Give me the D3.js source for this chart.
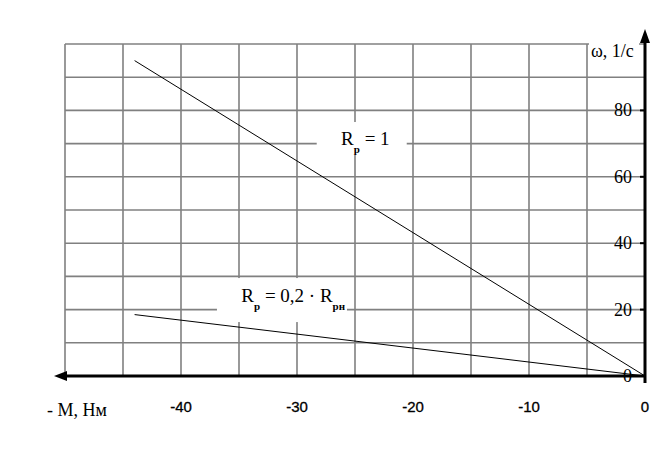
<!DOCTYPE html>
<html>
<head>
<meta charset="utf-8">
<script src="https://cdn.jsdelivr.net/npm/d3@7"></script>
<style>
  body { margin: 0; background: #fff; }
  svg { display: block; }
</style>
</head>
<body>
<div id="chart"></div>
<script>
// data
var torque = [-44, 0];
var speedR1 = [95, 0];      // R_p = 1
var speedR02 = [18.5, 0];   // R_p = 0,2 * R_pн
var xTicks = [-40, -30, -20, -10, 0];
var yTicks = [0, 20, 40, 60, 80];
var xGrid = d3.range(-50, 1, 5);
var yGrid = d3.range(0, 101, 10);

var SERIF = "'Liberation Serif'";
var SANS = "'Liberation Sans'";

var width = 669, height = 460;

var svg = d3.select("#chart").append("svg")
    .attr("width", width)
    .attr("height", height);

var x = d3.scaleLinear().domain([-50, 0]).range([65, 645]);
var y = d3.scaleLinear().domain([0, 100]).range([376, 44]);

// grid
var grid = svg.append("g")
    .attr("stroke", "#808080")
    .attr("stroke-width", 1.6);
grid.selectAll(".v").data(xGrid).enter().append("line")
    .attr("x1", d => x(d)).attr("x2", d => x(d))
    .attr("y1", y(100)).attr("y2", y(0));
grid.selectAll(".h").data(yGrid).enter().append("line")
    .attr("x1", x(-50)).attr("x2", x(0))
    .attr("y1", d => y(d)).attr("y2", d => y(d));

// white boxes under the labels
svg.append("rect").attr("x", x(-28.3)).attr("y", y(76.5)).attr("width", 90).attr("height", 33).attr("fill", "#fff");
svg.append("rect").attr("x", x(-36.9)).attr("y", y(29.5)).attr("width", 130).attr("height", 44).attr("fill", "#fff");
svg.append("rect").attr("x", 589).attr("y", 20).attr("width", 50).attr("height", 50).attr("fill", "#fff");

// axes
svg.append("line")
    .attr("x1", x(0)).attr("x2", 62)
    .attr("y1", y(0)).attr("y2", y(0))
    .attr("stroke", "#000").attr("stroke-width", 3);
svg.append("path")
    .attr("d", "M54," + y(0) + "L67," + (y(0) - 5) + "L67," + (y(0) + 5) + "Z")
    .attr("fill", "#000");
svg.append("line")
    .attr("x1", x(0)).attr("x2", x(0))
    .attr("y1", y(0) + 7).attr("y2", 40)
    .attr("stroke", "#000").attr("stroke-width", 3);
svg.append("path")
    .attr("d", "M" + x(0) + ",29L" + (x(0) - 5) + ",43L" + (x(0) + 5) + ",43Z")
    .attr("fill", "#000");

// y ticks
var yt = svg.append("g");
yt.selectAll("line").data(yTicks.filter(d => d > 0)).enter().append("line")
    .attr("x1", x(0) - 5).attr("x2", x(0))
    .attr("y1", d => y(d)).attr("y2", d => y(d))
    .attr("stroke", "#000").attr("stroke-width", 2);
yt.selectAll("text").data(yTicks).enter().append("text")
    .attr("x", 632)
    .attr("y", d => y(d) + 6)
    .attr("text-anchor", "end")
    .style("font-family", SERIF)
    .style("font-size", "18px")
    .text(d => d);

// x ticks
svg.append("g").selectAll("text").data(xTicks).enter().append("text")
    .attr("x", d => x(d))
    .attr("y", 412)
    .attr("text-anchor", "middle")
    .style("font-family", SANS)
    .style("font-size", "15px")
    .style("stroke", "#000").style("stroke-width", 0.3)
    .text(d => d);

// axis titles
svg.append("text")
    .attr("x", 47).attr("y", 416)
    .style("font-family", SERIF)
    .style("font-size", "18px")
    .text("- М, Нм");
svg.append("text")
    .attr("x", 591).attr("y", 57)
    .style("font-family", SERIF)
    .style("font-size", "18px")
    .text("ω, 1/с");

// curves
var line = d3.line().x(d => x(d[0])).y(d => y(d[1]));
[speedR1, speedR02].forEach(function(s) {
    svg.append("path")
        .datum(torque.map((t, i) => [t, s[i]]))
        .attr("d", line)
        .attr("fill", "none")
        .attr("stroke", "#000")
        .attr("stroke-width", 1);
});

// curve labels
function label(px, py, sub, rest, sub2) {
    var t = svg.append("text")
        .attr("x", px).attr("y", py)
        .style("font-family", SERIF)
        .style("font-size", "19px");
    t.append("tspan").text("R");
    t.append("tspan").attr("dy", 8).style("font-size", "11px").style("font-weight", "bold").text(sub);
    t.append("tspan").attr("dy", -8).text(rest);
    if (sub2) {
        t.append("tspan").attr("dy", 8).style("font-size", "11px").style("font-weight", "bold").text(sub2);
    }
}
label(x(-26.2), y(69.5), "р", " = 1");
label(x(-34.8), y(22.2), "р", " = 0,2 · R", "рн");
</script>
</body>
</html>
